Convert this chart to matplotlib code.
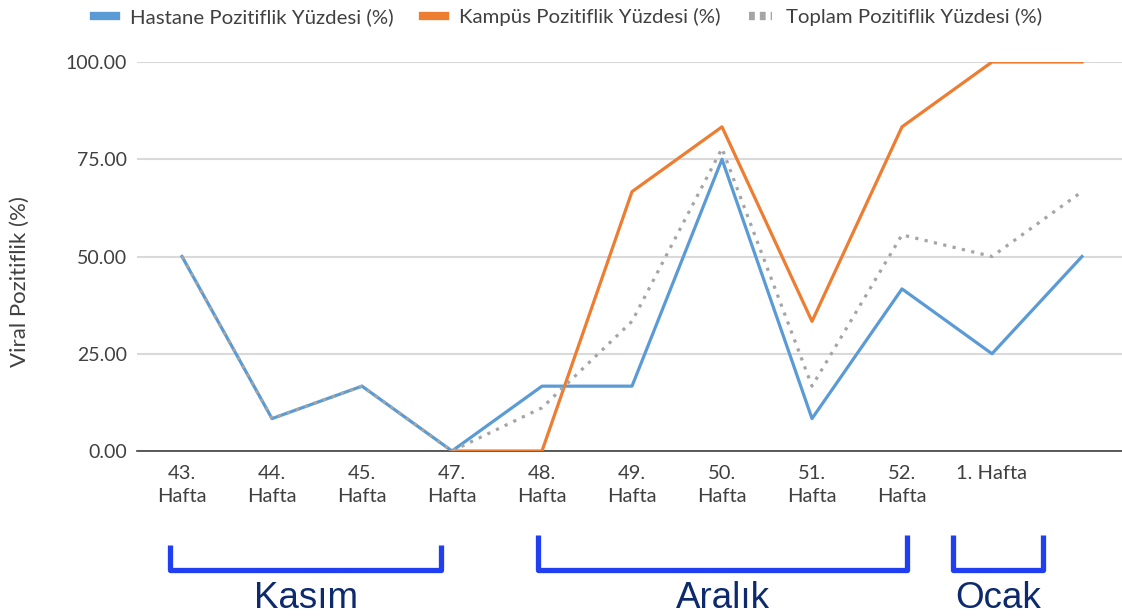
import numpy as np
import matplotlib
matplotlib.use("Agg")
import matplotlib.pyplot as plt
from matplotlib.lines import Line2D
from matplotlib.transforms import blended_transform_factory

plt.rcParams['font.family'] = ['Lato', 'DejaVu Sans']

# veriler
weeks = ["43.\nHafta", "44.\nHafta", "45.\nHafta", "47.\nHafta", "48.\nHafta",
         "49.\nHafta", "50.\nHafta", "51.\nHafta", "52.\nHafta", "1. Hafta", ""]
hastane = [50.0, 8.33, 16.67, 0.0, 16.67, 16.67, 75.0, 8.33, 41.67, 25.0, 50.0]
kampus = [np.nan, np.nan, np.nan, 0.0, 0.0, 66.67, 83.33, 33.33, 83.33, 100.0, 100.0]
toplam = [50.0, 8.33, 16.67, 0.0, 11.11, 33.33, 77.78, 16.67, 55.56, 50.0, 66.67]

months = ["Kasım", "Aralık", "Ocak"]
month_spans = [(-0.13, 2.88), (3.96, 8.06), (8.57, 9.57)]

BLUE = "#5b9bd5"
ORANGE = "#ed7d31"
GRAY = "#a5a5a5"
TXT = "#404040"

fig = plt.figure(figsize=(11.22, 6.16), dpi=100)
ax = fig.add_axes([137 / 1122, 1 - 451 / 616, 1 - 137 / 1122, (451 - 62) / 616])

x = np.arange(len(weeks))
ax.plot(x, hastane, color=BLUE, lw=2.3, zorder=3)
ax.plot(x, kampus, color=ORANGE, lw=2.3, zorder=3)
ax.plot(x, toplam, color=GRAY, lw=2.3, dashes=(1, 2), zorder=4)

ax.set_xlim(-0.5, (1122 - 182) / 90)
ax.set_ylim(0, 100)
ax.set_yticks([0, 25, 50, 75, 100])
ax.set_yticklabels([f"{v:.2f}" for v in [0, 25, 50, 75, 100]])
ax.set_xticks(x)
ax.set_xticklabels(weeks, linespacing=1.45)
ax.tick_params(axis='both', length=0, labelcolor=TXT)
ax.tick_params(axis='y', pad=7, labelsize=14)
ax.tick_params(axis='x', pad=10, labelsize=14.5)
ax.grid(axis='y', color="#d9d9d9", lw=1.5)
ax.set_axisbelow(True)
for s in ["top", "right", "left"]:
    ax.spines[s].set_visible(False)
ax.spines["bottom"].set_color(TXT)
ax.spines["bottom"].set_linewidth(1.2)

fig.text(20 / 1122, 1 - 282 / 616, "Viral Pozitiflik (%)", rotation=90,
         ha='center', va='center', fontsize=16, color=TXT)

# lejant
handles = [Line2D([], [], color=BLUE, lw=6),
           Line2D([], [], color=ORANGE, lw=6),
           Line2D([], [], color=GRAY, lw=6, dashes=(0.7, 0.6))]
labels = ["Hastane Pozitiflik Yüzdesi (%)", "Kampüs Pozitiflik Yüzdesi (%)",
          "Toplam Pozitiflik Yüzdesi (%)"]
fig.legend(handles, labels, loc='center', bbox_to_anchor=(568 / 1122, 1 - 17 / 616),
           ncol=3, frameon=False, fontsize=14.7, handlelength=1.1, handletextpad=0.7,
           columnspacing=1.4, labelcolor=TXT)

# ay parantezleri
tr = blended_transform_factory(ax.transData, fig.transFigure)
tops = [545, 535, 535]
for name, (a, b), top in zip(months, month_spans, tops):
    y0 = 1 - top / 616
    y1 = 1 - 570 / 616
    ax.plot([a, a, b, b], [y0, y1, y1, y0], transform=tr, clip_on=False,
            color="#1f3ff0", lw=3.8, solid_joinstyle='round', solid_capstyle='butt')
    ax.text((a + b) / 2, 1 - 598 / 616, name, transform=tr, ha='center', va='center',
            fontsize=26.5, color="#0d2a6e", family=['Liberation Sans', 'DejaVu Sans'])

fig.savefig("out.png", dpi=100)
